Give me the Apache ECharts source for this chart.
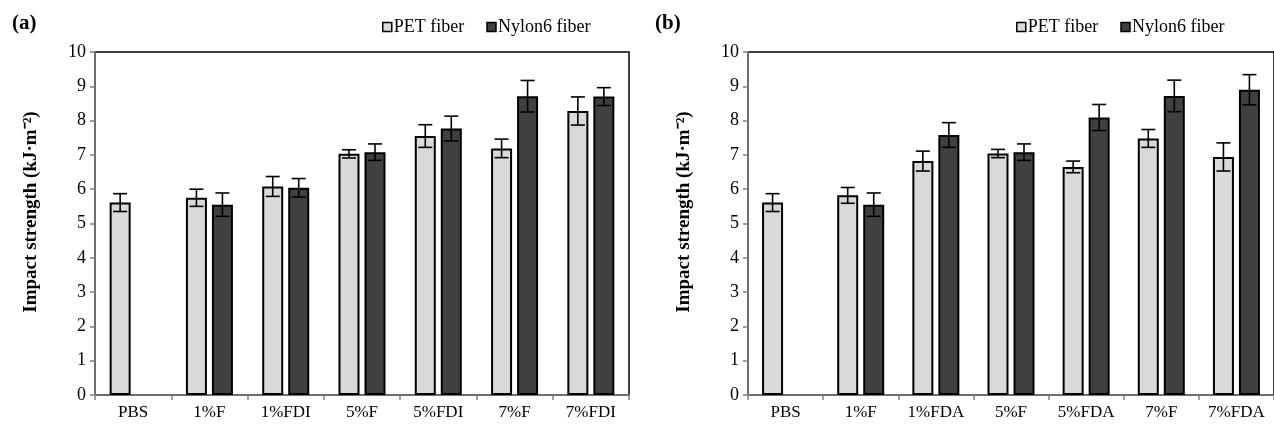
<!DOCTYPE html>
<html>
<head>
<meta charset="utf-8">
<script src="https://cdn.jsdelivr.net/npm/echarts@6/dist/echarts.min.js"></script>
<style>
    html, body { margin: 0; padding: 0; background: #fff; }
    #main { width: 1274px; height: 427px; }
</style>
</head>
<body>
<div id="main"></div>
<script>
// categories of both panels
var catsA = ['PBS', '1%F', '1%FDI', '5%F', '5%FDI', '7%F', '7%FDI'];
var catsB = ['PBS', '1%F', '1%FDA', '5%F', '5%FDA', '7%F', '7%FDA'];

// panel (a)
var petA = [5.61, 5.75, 6.08, 7.03, 7.55, 7.19, 8.28];
var petErrA = [0.26, 0.25, 0.29, 0.12, 0.33, 0.27, 0.41];
var nylonA = [null, 5.55, 6.04, 7.08, 7.77, 8.71, 8.70];
var nylonErrA = [null, 0.34, 0.27, 0.24, 0.36, 0.46, 0.26];

// panel (b)
var petB = [5.61, 5.82, 6.82, 7.04, 6.65, 7.48, 6.94];
var petErrB = [0.26, 0.23, 0.29, 0.12, 0.17, 0.26, 0.41];
var nylonB = [null, 5.55, 7.58, 7.08, 8.09, 8.72, 8.90];
var nylonErrB = [null, 0.34, 0.36, 0.24, 0.38, 0.46, 0.44];

var FONT = 'Liberation Serif';
var AXIS_GREY = '#7f7f7f';
var Y_TITLE = 'Impact strength (kJ\u00b7m\u207b\u00b2)';
var barW = 21, barGap = 5;

// [index, value, err] for the custom error bar series
function errItems(vals, errs) {
    var out = [];
    for (var i = 0; i < vals.length; i++) {
        if (vals[i] == null) continue;
        out.push([i, vals[i], errs[i]]);
    }
    return out;
}

// side = -1 for left bar (PET), +1 for right bar (Nylon)
function errorBar(side) {
    return function (params, api) {
        var idx = api.value(0), v = api.value(1), e = api.value(2);
        var mid = api.coord([idx, v]);
        var hi = api.coord([idx, v + e]);
        var lo = api.coord([idx, v - e]);
        var x = mid[0] + side * (barW + barGap) / 2;
        var cap = 7;
        var st = { stroke: '#000', lineWidth: 1.6 };
        return {
            type: 'group',
            children: [
                { type: 'line', shape: { x1: x, y1: hi[1], x2: x, y2: lo[1] }, style: st },
                { type: 'line', shape: { x1: x - cap, y1: hi[1], x2: x + cap, y2: hi[1] }, style: st },
                { type: 'line', shape: { x1: x - cap, y1: lo[1], x2: x + cap, y2: lo[1] }, style: st }
            ]
        };
    };
}

function makeX(cats, gi) {
    return {
        type: 'category', gridIndex: gi, data: cats,
        axisLine: { lineStyle: { color: AXIS_GREY, width: 1.5 } },
        axisTick: { show: true, length: 5, lineStyle: { color: AXIS_GREY, width: 1.5 } },
        axisLabel: { fontFamily: FONT, fontSize: 17, color: '#000', margin: 9 }
    };
}

function makeY(gi) {
    return {
        type: 'value', gridIndex: gi, min: 0, max: 10, interval: 1,
        axisLine: { show: true, lineStyle: { color: AXIS_GREY, width: 1.5 } },
        axisTick: { show: true, length: 5, lineStyle: { color: AXIS_GREY, width: 1.5 } },
        splitLine: { show: false },
        axisLabel: { fontFamily: FONT, fontSize: 18, color: '#000', margin: 9 }
    };
}

function barSeries(name, data, color, gi) {
    return {
        name: name, type: 'bar', xAxisIndex: gi, yAxisIndex: gi,
        data: data, barWidth: barW, barGap: (barGap / barW * 100) + '%',
        itemStyle: { color: color, borderColor: '#000', borderWidth: 2 },
        z: 2
    };
}

function errSeries(vals, errs, side, gi) {
    return {
        type: 'custom', xAxisIndex: gi, yAxisIndex: gi,
        data: errItems(vals, errs), renderItem: errorBar(side), z: 5,
        silent: true
    };
}

function makeLegend(left) {
    return {
        left: left, top: 13, itemWidth: 9, itemHeight: 9, itemGap: 22,
        icon: 'rect',
        itemStyle: { borderColor: '#000', borderWidth: 1.5 },
        textStyle: { fontFamily: FONT, fontSize: 18, color: '#000', padding: [0, 0, 0, -3] },
        data: ['PET fiber', 'Nylon6 fiber']
    };
}

// rotated y axis title, placed by hand
function yTitle(x) {
    return {
        type: 'text', x: x, y: 212, rotation: Math.PI / 2,
        style: {
            text: Y_TITLE, fill: '#000', align: 'center', verticalAlign: 'middle',
            font: 'bold 19px "' + FONT + '"'
        }
    };
}

var PET_COLOR = '#d9d9d9', NYLON_COLOR = '#404040';

var chart = echarts.init(document.getElementById('main'));
var option = {
    animation: false,
    backgroundColor: '#fff',
    title: [
        { text: '(a)', left: 7, top: 8, textStyle: { fontFamily: FONT, fontSize: 21, fontWeight: 'bold', color: '#000' } },
        { text: '(b)', left: 650, top: 8, textStyle: { fontFamily: FONT, fontSize: 21, fontWeight: 'bold', color: '#000' } }
    ],
    legend: [makeLegend(377), makeLegend(1011)],
    grid: [
        { left: 95, top: 52, width: 534, height: 343, show: true, borderColor: '#000', borderWidth: 1.5 },
        { left: 748, top: 52, width: 532, height: 343, show: true, borderColor: '#000', borderWidth: 1.5 }
    ],
    xAxis: [makeX(catsA, 0), makeX(catsB, 1)],
    yAxis: [makeY(0), makeY(1)],
    graphic: [yTitle(31), yTitle(684)],
    series: [
        barSeries('PET fiber', petA, PET_COLOR, 0),
        barSeries('Nylon6 fiber', nylonA, NYLON_COLOR, 0),
        errSeries(petA, petErrA, -1, 0),
        errSeries(nylonA, nylonErrA, 1, 0),
        barSeries('PET fiber', petB, PET_COLOR, 1),
        barSeries('Nylon6 fiber', nylonB, NYLON_COLOR, 1),
        errSeries(petB, petErrB, -1, 1),
        errSeries(nylonB, nylonErrB, 1, 1)
    ]
};
chart.setOption(option);
</script>
</body>
</html>
